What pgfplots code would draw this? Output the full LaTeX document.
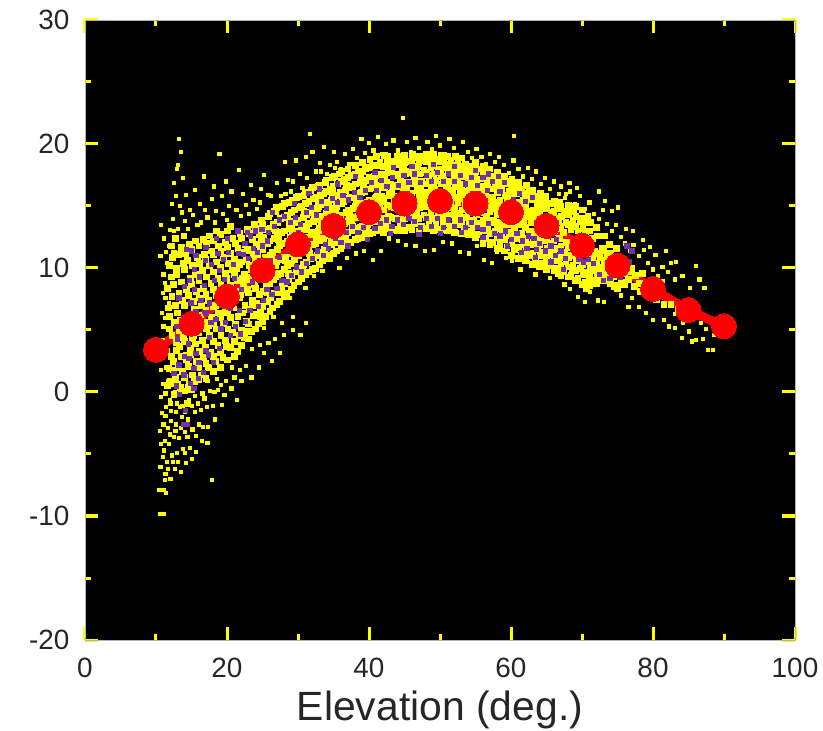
\documentclass[border=0pt]{standalone}
\usepackage{pgfplots}
\pgfplotsset{compat=1.18}
\usepackage{fontspec}
\setmainfont{Liberation Sans}
\definecolor{yy}{RGB}{255,255,0}
\definecolor{pp}{RGB}{112,48,176}
\begin{document}
\begin{tikzpicture}
\path[use as bounding box] (-85bp,-91bp) rectangle (738bp,640bp);
\begin{axis}[
  at={(0,0)}, anchor=south west,
  scale only axis, width=710bp, height=620bp,
  xmin=0, xmax=100, ymin=-20, ymax=30,
  xtick={0,20,...,100}, ytick={-20,-10,...,30},
  minor x tick num=1, minor y tick num=1,
  tick align=inside,
  major tick length=13bp, minor tick length=6bp,
  tick style={yy, line width=3bp},
  minor tick style={yy, line width=3bp},
  axis line style={gray!60, line width=0.8bp},
  axis background/.style={fill=black},
  /pgf/number format/assume math mode=true,
  tick label style={font=\fontsize{28}{28}\selectfont, text=black!85},
  xticklabel style={yshift=-15bp},
  yticklabel style={xshift=-12bp},
  xlabel={Elevation (deg.)},
  xlabel style={font=\fontsize{41}{41}\selectfont, text=black!85, at={(axis description cs:0.5,0)}, anchor=center, yshift=-70bp},
  clip=true,
]
% sparse yellow
\addplot[only marks, mark=square*, mark size=1.6bp, color=yy] coordinates {
(10.6,-9.8)(11,-9.8)(10.4,-7.9)(11,-7.9)(11.4,-8.1)(17.9,-7.1)(11.3,-6.6)(12,-7)(12.6,-6.2)(13.5,-6.4)(14.2,-5.7)(15,-5.4)
(10.6,-6)(10.9,-5.2)(11.5,-5.6)(12.2,-5.1)(12.9,-4.9)(13.8,-4.6)(14.7,-4.5)(15.6,-4.8)(16.4,-3.9)(17.2,-4.1)
(10.7,-4.2)(11.2,-3.9)(11.8,-4.2)(12.5,-3.6)(13.2,-3.7)(14,-3.2)(15.1,-3)(16,-2.6)(17.3,-2.8)(18.3,-2.2)
(10.5,-3.1)(11,-2.6)(11.6,-2.9)(12.1,-2.3)(12.8,-2.6)(13.6,-2)(14.5,-2.2)(15.4,-1.6)(16.3,-1.4)(17.1,-1.2)(18,-1.1)(19.2,-1)
(10.8,-1.7)(11.4,-1.2)(12.1,-1.5)(12.9,-0.9)(13.7,-1.1)(14.6,-0.6)(15.5,-0.3)(16.5,-0.1)(17.6,0.1)(18.7,0.2)(19.6,-0.2)(20.6,0.3)(21.4,-0.6)
(10.7,-0.4)(11.3,-0.1)(11.9,-0.6)(12.6,0)(13.4,0.2)(14.3,0.5)(17.2,0.9)(18.6,1.1)(19.8,0.9)(21,1.2)(22,0.9)
(11,0.7)(11.6,0.9)(12.3,0.6)(20.7,2)(21.8,1.8)(22.6,2.1)(23.4,1.2)(24.5,2)(26.3,2.5)(27.4,3.2)(25.2,3.2)
(10.7,1.8)(11.4,2)(23.5,3.5)(24.6,3.8)(25.8,4)(26.7,4.3)(28,4.6)(29.2,5)(30.3,4.6)(31.1,5.6)(27.7,5.6)(29.3,6.1)
(10.5,3.1)(10.9,8)(11,9.5)(10.6,11)(11.1,12.4)(10.7,13.5)(11.5,10.4)(11.8,7.2)(11.3,6)(11.6,5.2)
(11.9,13.1)(12.3,14)(12.2,15.2)(12.8,15.8)(12.5,16.9)(12.9,18)(13.2,20.4)(13.5,19.4)(13,18.3)(13.8,17.3)(14.2,15.9)(13.6,14.5)(14.5,13.2)(15.2,14.3)
(15.5,16.3)(16.2,15.2)(16.7,17.4)(15.8,13.5)(17.2,14.1)(17.8,15.6)(18.1,16.6)(18.9,19.2)(18.4,14.6)(19.3,15.8)(19.8,17)(20.2,15)(20.6,16.2)(21.3,14.7)
(21.7,17.9)(22.2,16)(22.6,15.1)(23.3,16.7)(23.7,15.5)(24.2,14.8)(24.8,16.4)(25.2,17.5)(25.8,15.9)(26.4,14.7)(27,16.9)(27.6,15.8)(28.1,18.6)(28.6,17.1)
(29,16.2)(29.7,18.7)(30.2,17.6)(30.6,16.5)(31.1,19)(31.7,20.8)(32,19.4)(32.5,17.8)(33,18.5)(33.6,19.8)(34,17.6)(34.5,18.3)(35,19.4)(35.5,18.6)(36,18)(36.6,19.2)
(37.2,18.4)(37.7,19.6)(38.3,18.9)(38.9,20.4)(39.4,19.3)(40,20.1)(40.6,19.5)(41.2,20.6)(41.8,19.2)(42.3,20)(42.8,19.1)(43.4,20.3)(44,19.5)(44.7,22.1)(45.3,20.2)(45.9,19.4)(46.5,20.5)(47,19.7)
(47.6,19.1)(48.2,20.2)(48.8,19.6)(49.4,20.7)(50,19.9)(50.7,19.2)(51.3,20.4)(51.9,19.7)(52.6,19)(53.2,20.2)(53.9,19.4)(54.5,18.9)(55.1,19.6)(55.8,19)(56.4,18.4)(57,19.2)
(57.7,18.6)(58.3,19)(59,18.3)(59.7,17.7)(60.4,20.7)(60.3,18.7)(61,18)(61.7,17.4)(62.3,18.1)(62.9,17.2)(63.5,17.8)(64.2,16.8)(64.8,17.3)(65.5,16.4)(66,17)(66.7,16)
(67,16.6)(67.6,15.7)(68.3,16.2)(69,15.2)(69.7,15.8)(70.3,14.8)(71,15.3)(71.6,14.4)(68.2,16.9)(69.2,16.5)(67.7,16)
(72.3,14)(72.9,14.7)(73.5,13.6)(74.2,13)(74.8,13.5)(75.5,12.5)(76,12)(76.7,11.4)(77.2,11.9)(78,11)(78.7,11.5)(79.2,10.4)
(80,9.9)(80.7,9.4)(81.3,10.1)(81.3,9)(82.1,9.7)(83,9.1)(84.1,9.4)(86,10.2)(86.5,9.1)(85.2,8.4)(87.2,8.4)
(81.5,5.8)(82.2,5.3)(83.1,5.2)(84,4.4)(85,4.9)(86,4.2)(87,4.3)(87.7,3.4)(88.4,3.4)(85.4,4.1)(87.4,5.1)(88.5,4.6)(84.2,5.6)(83,6.3)(86.7,5.6)
(79,6.4)(80,5.8)(78,6.9)(77,7.6)(76.5,6.9)(75.5,7.8)(74.3,8.4)(73,7.3)(72.2,7.4)(71.1,8.1)(70.4,7.3)(69.4,7.7)(68.3,8.3)(67.5,8.7)(66.4,9.5)(65.4,9.2)(64.5,10)(63.4,9.5)(62.4,10.5)(61.3,9.9)
(60.1,10.6)(59.2,10.8)(58,11.3)(57.3,10.4)(56.2,10.7)(55.2,11.8)(54,11.2)(52.8,11.3)(51.7,12)(50.4,12.1)(49.1,11.5)(47.8,11.4)(46.5,11.8)(45.2,11.9)(44,12.2)(42.8,12.4)(41.6,11.4)(40.5,10.7)
(39.3,11.4)(38.1,11.2)(36.9,10.8)(35.8,10)(34.6,10.7)(33.4,9.8)(32.2,9.4)(31,8.4)(30,8.8)(28.8,7.6)(27.6,7.2)(26.5,6.1)(25.2,5.2)
(72.4,16.2)(73.2,15.4)(74.2,14.6)(75,14.9)(76.2,13.2)(77.1,13)(78.5,12.3)(79.5,11.7)(80.3,11.1)(81.8,11.4)(82.5,10.4)(83.2,10.5)
(11.2,-7.1)(11.7,-6.2)(12.4,-5.6)(13.1,-5.6)(14,-4.9)(11.1,-4.7)(11.9,-3.4)(12.7,-3.1)(13.5,-2.9)(14.4,-3.6)(15.6,-3.5)(16.6,-2.8)
(11.3,-1.9)(12,-0.9)(12.8,-1.6)(13.3,-1.2)(14,-1.6)(15,-1.1)(15.9,-0.9)(16.8,-0.5)(18.2,0)(19.1,0.6)
(10.9,4.2)(11,5.3)(10.8,6.4)(11.3,7.6)(11.2,8.8)(11.4,11.3)(11.8,11.8)(12.5,13)(13.1,13.2)(13.3,15)(14,13.8)(14.7,14.7)(16.3,13.7)(16.9,14.7)(18.3,13.7)(19.4,14.4)(20,13.9)(21.9,14.2)(23,14.4)(24.6,15.3)(26.2,15.8)(28.2,16)(29.3,17)(31.2,17.3)(33.2,17.8)(35.2,18.1)
};
% dense yellow
\addplot[only marks, mark=square*, mark size=2.9bp, color=yy] coordinates {
(11.6,0.5)(11.8,1.9)(11.5,3.3)(11.9,5.1)(11.7,6.8)(11.6,8.4)(11.9,10.2)(12.1,11.8)
(12.5,-0.2)(12.7,1.2)(12.4,2.5)(12.8,4)(12.5,5.6)(12.7,7)(12.4,8.7)(12.8,10)(12.5,11.2)(12.7,12.4)
(13.4,0.4)(13.7,1.7)(13.5,2.9)(13.8,4.4)(13.4,5.8)(13.7,7.4)(13.5,8.9)(13.8,10.4)(13.5,11.7)(13.9,12.6)
(14.4,-0.9)(14.7,0.6)(14.5,2.1)(14.8,3.5)(14.4,4.8)(14.7,6.2)(14.5,7.8)(14.8,9.2)(14.4,10.6)(14.7,11.9)
(15.4,0.9)(15.7,2.5)(15.5,3.9)(15.8,5.2)(15.4,6.7)(15.7,8.1)(15.5,9.5)(15.8,10.9)(15.5,12.2)
(16.4,1.4)(16.7,2.8)(16.5,4.2)(16.8,5.6)(16.4,7)(16.7,8.4)(16.5,9.8)(16.8,11.1)(16.6,12.3)
(17.4,2)(17.7,3.2)(17.5,4.6)(17.8,6)(17.4,7.4)(17.7,8.8)(17.5,10.2)(17.8,11.4)(17.5,12.6)
(18.4,2.5)(18.7,3.8)(18.5,5.1)(18.8,6.4)(18.4,7.8)(18.7,9.2)(18.5,10.5)(18.8,11.8)(18.5,13)
(19.4,2.8)(19.7,4.2)(19.5,5.5)(19.8,6.9)(19.4,8.2)(19.7,9.6)(19.5,10.9)(19.8,12.1)
(20.4,3.6)(20.7,4.8)(20.5,6)(20.8,7.3)(20.4,8.6)(20.7,9.9)(20.5,11.2)(20.8,12.4)(20.5,13.4)
(21.4,3.3)(21.7,4.6)(21.5,6.1)(21.8,7.6)(21.4,9)(21.7,10.3)(21.5,11.6)(21.8,12.8)
(22.4,4.4)(22.7,5.7)(22.5,7)(22.8,8.3)(22.4,9.5)(22.7,10.7)(22.5,11.9)(22.8,13.1)
(23.4,4.9)(23.7,6.2)(23.5,7.4)(23.8,8.7)(23.4,9.9)(23.7,11.1)(23.5,12.3)(23.8,13.5)
(24.4,5.5)(24.7,6.7)(24.5,7.9)(24.8,9.1)(24.4,10.3)(24.7,11.5)(24.5,12.7)(24.8,13.9)
(25.4,6.1)(25.7,7.3)(25.5,8.5)(25.8,9.7)(25.4,10.9)(25.7,12)(25.5,13.1)(25.8,14.2)
(26.4,6.8)(26.7,8)(26.5,9.1)(26.8,10.2)(26.4,11.3)(26.7,12.4)(26.5,13.5)(26.8,14.6)
(27.4,7.3)(27.7,8.5)(27.5,9.6)(27.8,10.7)(27.4,11.8)(27.7,12.9)(27.5,14)(27.8,15)
(28.4,8)(28.7,9.1)(28.5,10.2)(28.8,11.2)(28.4,12.2)(28.7,13.2)(28.5,14.3)(28.8,15.3)
(29.4,8.6)(29.7,9.7)(29.5,10.7)(29.8,11.7)(29.4,12.7)(29.7,13.7)(29.5,14.7)(29.8,15.7)
(30.4,9.2)(30.7,10.3)(30.5,11.3)(30.8,12.3)(30.4,13.2)(30.7,14.1)(30.5,15)(30.8,15.9)
(31.4,9.7)(31.7,10.8)(31.5,11.7)(31.8,12.7)(31.4,13.6)(31.7,14.5)(31.5,15.4)(31.8,16.3)
(32.4,10)(32.7,11)(32.5,12)(32.8,13)(32.4,13.9)(32.7,14.8)(32.5,15.7)(32.8,16.6)
(33.4,10.6)(33.7,11.5)(33.5,12.4)(33.8,13.3)(33.4,14.2)(33.7,15.1)(33.5,16)(33.8,16.9)
(34.4,11)(34.7,11.9)(34.5,12.8)(34.8,13.7)(34.4,14.6)(34.7,15.5)(34.5,16.4)(34.8,17.3)
(35.4,11.4)(35.7,12.3)(35.5,13.2)(35.8,14.1)(35.4,15)(35.7,15.9)(35.5,16.8)(35.8,17.6)
(36.4,11.8)(36.7,12.7)(36.5,13.6)(36.8,14.5)(36.4,15.4)(36.7,16.3)(36.5,17.2)
(37.4,12.1)(37.7,13)(37.5,13.9)(37.8,14.8)(37.4,15.7)(37.7,16.6)(37.5,17.5)
(38.4,12.4)(38.7,13.3)(38.5,14.2)(38.8,15.1)(38.4,16)(38.7,16.9)(38.5,17.8)
(39.4,12.7)(39.7,13.5)(39.5,14.4)(39.8,15.3)(39.4,16.2)(39.7,17.1)(39.5,18)
(40.4,12.9)(40.7,13.8)(40.5,14.7)(40.8,15.6)(40.4,16.5)(40.7,17.4)(40.5,18.3)
(41.4,13.1)(41.7,14)(41.5,14.9)(41.8,15.8)(41.4,16.7)(41.7,17.6)(41.5,18.5)
(42.4,13.3)(42.7,14.2)(42.5,15.1)(42.8,16)(42.4,16.9)(42.7,17.8)(42.5,18.6)
(43.4,13.1)(43.7,14)(43.5,14.9)(43.8,15.8)(43.4,16.7)(43.7,17.6)(43.5,18.5)
(44.4,13.5)(44.7,14.4)(44.5,15.3)(44.8,16.2)(44.4,17.1)(44.7,18)(44.5,18.8)
(45.4,13.3)(45.7,14.2)(45.5,15.1)(45.8,16)(45.4,16.9)(45.7,17.8)(45.5,18.6)
(46.4,13.6)(46.7,14.5)(46.5,15.4)(46.8,16.3)(46.4,17.2)(46.7,18.1)(46.5,18.9)
(47.4,13.4)(47.7,14.3)(47.5,15.2)(47.8,16.1)(47.4,17)(47.7,17.9)(47.5,18.7)
(48.4,13.6)(48.7,14.5)(48.5,15.4)(48.8,16.3)(48.4,17.2)(48.7,18.1)(48.5,18.9)
(49.4,13.5)(49.7,14.4)(49.5,15.3)(49.8,16.2)(49.4,17.1)(49.7,18)(49.5,18.8)
(50.4,13.6)(50.7,14.5)(50.5,15.4)(50.8,16.3)(50.4,17.2)(50.7,18.1)(50.5,18.9)
(51.4,13.4)(51.7,14.3)(51.5,15.2)(51.8,16.1)(51.4,17)(51.7,17.9)(51.5,18.7)
(52.4,13.5)(52.7,14.4)(52.5,15.3)(52.8,16.2)(52.4,17.1)(52.7,18)(52.5,18.8)
(53.4,13.2)(53.7,14.1)(53.5,15)(53.8,15.9)(53.4,16.8)(53.7,17.7)(53.5,18.4)
(54.4,13)(54.7,13.9)(54.5,14.8)(54.8,15.7)(54.4,16.6)(54.7,17.5)(54.5,18.2)
(55.4,12.7)(55.7,13.6)(55.5,14.5)(55.8,15.4)(55.4,16.3)(55.7,17.2)(55.5,18)
(56.4,12.4)(56.7,13.3)(56.5,14.2)(56.8,15.1)(56.4,16)(56.7,16.9)(56.5,17.7)
(57.4,12.1)(57.7,13)(57.5,13.9)(57.8,14.8)(57.4,15.7)(57.7,16.6)(57.5,17.4)
(58.4,11.9)(58.7,12.8)(58.5,13.7)(58.8,14.6)(58.4,15.5)(58.7,16.4)(58.5,17.2)
(59.4,11.7)(59.7,12.6)(59.5,13.5)(59.8,14.4)(59.4,15.3)(59.7,16.2)(59.5,17)
(60.4,11.5)(60.7,12.4)(60.5,13.3)(60.8,14.2)(60.4,15.1)(60.7,16)(60.5,16.8)
(61.4,11)(61.7,11.9)(61.5,12.8)(61.8,13.7)(61.4,14.6)(61.7,15.5)(61.5,16.4)
(62.4,11)(62.7,11.9)(62.5,12.8)(62.8,13.7)(62.4,14.6)(62.7,15.5)(62.5,16.2)
(63.4,10.6)(63.7,11.5)(63.5,12.4)(63.8,13.3)(63.4,14.2)(63.7,15)(63.5,15.8)
(64.4,10.4)(64.7,11.3)(64.5,12.2)(64.8,13.1)(64.4,14)(64.7,14.8)(64.5,15.5)
(65.4,10.2)(65.7,11.1)(65.5,12)(65.8,12.9)(65.4,13.7)(65.7,14.5)(65.5,15.2)
(66.4,10)(66.7,10.8)(66.5,11.6)(66.8,12.4)(66.4,13.2)(66.7,14)(66.5,14.8)
(67.4,9.7)(67.7,10.5)(67.5,11.3)(67.8,12.1)(67.4,12.9)(67.7,13.7)(67.5,14.6)
(68.4,9.4)(68.7,10.2)(68.5,11)(68.8,11.8)(68.4,13.1)(68.7,13.9)(68.5,14.7)
(69.4,9.2)(69.7,10)(69.5,10.8)(69.8,11.6)(69.4,13)(69.7,13.8)
(70.4,8.9)(70.7,9.7)(70.5,10.5)(70.8,11.3)(70.4,12.9)(70.7,13.7)
(71.4,9)(71.7,9.8)(71.5,10.6)(71.8,11.4)(71.4,12.4)
(72.4,9.2)(72.7,10.1)(72.5,10.9)(72.8,11.6)
(73.4,9.5)(73.7,10.3)(73.5,11.1)(73.8,11.9)
(74.4,9.3)(74.7,10.1)(74.5,10.9)(74.8,11.6)
(75.5,8.9)(76,9.6)(76.5,9.1)(77,10)(77.5,9.4)(78,8.8)(78.5,9.6)(79,8.7)
(80.5,7.5)(81.5,7.1)(82.5,7.1)(83.5,6.7)
% second pass, denser and less regular
(12,0.9)(12.1,2.9)(12.2,4.6)(11.9,6.1)(12.2,7.7)(12.1,9.3)(12.3,10.9)
(13,0.6)(13.1,2)(12.9,3.4)(13.2,5)(13,6.4)(13.2,8)(12.9,9.5)(13.1,11.1)
(14,0.1)(14,1.2)(14.2,3)(14,4.1)(14.1,5.4)(14,7)(14.2,8.3)(14,9.9)(14.1,11.2)
(15,0.2)(15.1,1.4)(14.9,3)(15.1,4.3)(15,5.9)(15.2,7.3)(15,8.7)(15.1,10.2)(15,11.5)
(16,1)(15.9,2)(16.1,3.3)(16,4.8)(15.9,6.2)(16.1,7.6)(16,9)(16.1,10.4)(16,11.8)
(17,1.1)(17,2.3)(16.9,3.6)(17.1,5.1)(17,6.6)(17,7.9)(17.1,9.3)(16.9,10.7)(17.1,12)
(18,1.7)(18,2.9)(18.1,4.1)(18,5.5)(18.1,6.9)(18,8.3)(18,9.7)(18.1,11.1)(18,12.2)
(19,2)(19,3.2)(19.1,4.6)(19,6)(18.9,7.3)(19.1,8.7)(19,10.1)(19.1,11.4)(19,12.7)
(20,2.6)(19.9,3.7)(20.1,5.1)(20,6.4)(20.1,7.9)(19.9,9.2)(20.1,10.4)(20,11.7)(20,13)
(21,2.9)(21,4.1)(21.1,5.5)(20.9,6.8)(21.1,8.1)(21,9.5)(21,10.7)(21.1,12)
(22,3.8)(22,5)(22.1,6.4)(21.9,7.9)(22.1,9.2)(22,10.5)(22.1,11.3)(22,12.4)
(23,4.3)(23,5.5)(23.1,6.7)(23,8)(22.9,9.1)(23.1,10.2)(23,11.5)(23.1,12.8)
(24,5.1)(24,6.3)(24.1,7.2)(24,8.4)(24.1,9.6)(23.9,10.7)(24.1,11.9)(24,13.2)
(25,5.7)(25,6.9)(25.1,8.1)(24.9,9.4)(25.1,10.5)(25,11.5)(25.1,12.5)(25,13.5)
(26,6.5)(26.1,7.6)(26,8.8)(26.1,9.9)(26,11)(25.9,12.2)(26.1,13.2)(26,14.4)
(27,7.1)(27,8.2)(27.1,9.3)(27,10.5)(27.1,11.5)(27,12.6)(27.1,13.7)(26.9,14.9)
(28,7.7)(28.1,8.8)(28,9.9)(28.1,10.9)(27.9,12)(28.1,13)(28,14.1)(28.1,15.2)
(29,8.3)(29,9.4)(29.1,10.4)(29,11.4)(28.9,12.5)(29.1,13.5)(29,14.5)(29.1,15.5)
(30,8.9)(30.1,10)(30,11)(30,12)(30.1,13)(29.9,13.9)(30.1,14.9)(30,15.8)
(31,9.5)(31.1,10.5)(31,11.5)(31,12.5)(30.9,13.4)(31.1,14.3)(31,15.2)(31,16.1)
(32,9.9)(32.1,10.9)(32,11.9)(31.9,12.9)(32.1,13.8)(32,14.7)(32.1,15.6)(32,16.5)
(33,10.3)(33.1,11.3)(33,12.2)(33,13.2)(33.1,14.1)(32.9,15)(33.1,15.9)(33,16.7)
(34,10.8)(34,11.7)(34.1,12.6)(34,13.5)(34,14.4)(34.1,15.3)(34,16.2)(33.9,17.1)
(35,11.2)(35.1,12.1)(35,13)(35,13.9)(35.1,14.8)(35,15.7)(34.9,16.6)(35.1,17.4)
(36,11.6)(36.1,12.5)(36,13.4)(36,14.3)(36.1,15.2)(35.9,16.1)(36,17)(36.1,17.8)
(37,12)(37,12.9)(37.1,13.8)(37,14.7)(36.9,15.6)(37.1,16.5)(37,17.3)(37,18)
(38,12.3)(38.1,13.2)(38,14.1)(38,15)(38.1,15.9)(38,16.8)(38.1,17.6)(38,18.3)
(39,12.5)(39,13.4)(39.1,14.3)(39,15.2)(38.9,16.1)(39.1,17)(39,17.8)(39,18.5)
(40,12.8)(40.1,13.7)(40,14.6)(40,15.5)(40.1,16.4)(40,17.3)(40,18.1)(40.1,18.8)
(41,13)(41,13.9)(41.1,14.8)(41,15.7)(41,16.6)(41.1,17.5)(41,18.3)(41,19)
(42,12.9)(42.1,13.8)(42,14.7)(42,15.6)(42.1,16.5)(42,17.4)(42,18.2)(42.1,19.1)
(43,13.2)(43,14.1)(43.1,15)(43,15.9)(43,16.8)(43.1,17.7)(43,18.6)
(44,13)(44.1,13.9)(44,14.8)(44,15.7)(44.1,16.6)(44,17.5)(44.1,18.4)(44,19)
(45,13)(45,14)(45.1,14.9)(45,15.8)(45,16.7)(45.1,17.6)(45,18.5)(45,19.1)
(46,13.1)(46.1,14.1)(46,15)(46,15.9)(46.1,16.8)(46,17.7)(46,18.5)(46.1,19.2)
(47,13)(47,14)(47.1,14.9)(47,15.8)(47,16.7)(47.1,17.6)(47,18.5)(47,19)
(48,13.2)(48.1,14.1)(48,15)(48,15.9)(48.1,16.8)(48,17.7)(48,18.6)(48.1,19.2)
(49,13)(49,14)(49.1,14.9)(49,15.8)(49,16.7)(49.1,17.6)(49,18.5)(49,19.2)
(50,13.1)(50.1,14.1)(50,15)(50,15.9)(50.1,16.8)(50,17.7)(50,18.6)(50.1,19.1)
(51,13)(51,14)(51.1,14.9)(51,15.8)(51,16.7)(51.1,17.6)(51,18.4)(51,19)
(52,12.9)(52.1,13.9)(52,14.8)(52,15.7)(52.1,16.6)(52,17.5)(52,18.3)(52.1,19)
(53,12.8)(53,13.8)(53.1,14.7)(53,15.6)(53,16.5)(53.1,17.4)(53,18.2)(53,18.9)
(54,12.7)(54.1,13.6)(54,14.5)(54,15.4)(54.1,16.3)(54,17.2)(54,18)
(55,12.5)(55,13.4)(55.1,14.3)(55,15.2)(55,16.1)(55.1,17)(55,17.8)(55,18.5)
(56,12)(56.1,13)(56,13.9)(56,14.8)(56.1,15.7)(56,16.6)(56,17.5)(56.1,18.2)
(57,11.9)(57,12.8)(57.1,13.7)(57,14.6)(57,15.5)(57.1,16.4)(57,17.2)(57,18)
(58,11.6)(58.1,12.5)(58,13.4)(58,14.3)(58.1,15.2)(58,16.1)(58,17)(58.1,17.7)
(59,11.4)(59,12.3)(59.1,13.2)(59,14.1)(59,15)(59.1,15.9)(59,16.8)(59,17.4)
(60,11)(60.1,12)(60,12.9)(60,13.8)(60.1,14.7)(60,15.6)(60,16.5)(60.1,17.2)
(61,10.8)(61,11.7)(61.1,12.6)(61,13.5)(61,14.4)(61.1,15.3)(61,16.1)(61,16.9)
(62,10.6)(62.1,11.5)(62,12.4)(62,13.3)(62.1,14.2)(62,15.1)(62,16)(62.1,16.7)
(63,10.3)(63,11.2)(63.1,12.1)(63,13)(63,13.9)(63.1,14.7)(63,15.5)(63,16.3)
(64,10.1)(64.1,11)(64,11.9)(64,12.7)(64.1,13.6)(64,14.4)(64,15.2)(64.1,16)
(65,9.9)(65,10.8)(65.1,11.6)(65,12.5)(65,13.3)(65.1,14.1)(65,15)
(66,9.8)(66.1,10.6)(66,11.4)(66,12.2)(66.1,13)(66,13.8)(66,14.6)(66.1,15.4)
(67,9.4)(67,10.2)(67.1,11)(67,11.8)(67,13.4)(67.1,14.2)(67,15)
(68,9.3)(68.1,10.1)(68,10.9)(68,11.7)(68,13.5)(68.1,14.3)(68,15.1)
(69,9)(69,9.8)(69.1,10.6)(69,11.4)(69,13.4)(69.1,14.2)(69,15)
(70,8.7)(70.1,9.5)(70,10.3)(70,11.1)(70.1,13.2)(70,14)(70,14.7)
(71,8.6)(71,9.4)(71.1,10.2)(71,11)(71,13)(71.1,13.7)
(72,8.8)(72.1,9.6)(72,10.4)(72,11.2)(72.1,12.6)(72,13.3)
(73,9)(73,9.8)(73.1,10.6)(73,11.4)(73.1,12.6)
(74,8.8)(74.1,9.6)(74,10.4)(74,11.2)
(75,8.4)(75.2,9.4)(75.9,8.7)(76.6,9.7)(77.3,8.5)(78.2,8.1)(79,8)(79.6,7.6)
% third pass, in the gaps
(22.6,4.9)(23.6,7)(24.6,6.1)(25.6,8)(26.6,9.6)(27.6,8)(28.6,9.6)(29.6,11.2)(30.6,9.8)(31.6,11.2)(32.6,12.5)(33.6,11)(34.6,12.3)(35.6,13.6)(36.6,12.2)(37.6,13.4)(38.6,14.7)(39.6,13)(40.6,14.2)(41.6,15.4)(42.6,13.8)(43.6,15.4)(44.6,14)(45.6,15.6)(46.6,14)(47.6,15.7)(48.6,14)(49.6,15.8)(50.6,14)(51.6,15.7)(52.6,13.9)(53.6,15.5)(54.6,13.4)(55.6,15)(56.6,13.8)(57.6,15.3)(58.6,13.2)(59.6,14.9)(60.6,13.8)(61.6,12.3)(62.6,14.2)
(23.2,9.3)(24.2,11)(25.2,9.1)(26.2,10.8)(27.2,12.3)(28.2,10.6)(29.2,13)(30.2,11.8)(31.2,13.1)(32.2,14.3)(33.2,13.8)(34.2,15)(35.2,14.5)(36.2,15.8)(37.2,14.3)(38.2,15.5)(39.2,16.6)(40.2,15)(41.2,16.2)(42.2,17.3)(43.2,16.2)(44.2,17.5)(45.2,16.4)(46.2,17.6)(47.2,16.5)(48.2,17.5)(49.2,16.4)(50.2,17.4)(51.2,16.3)(52.2,17.2)(53.2,16.2)(54.2,17)(55.2,15.8)(56.2,16.4)(57.2,15.1)(58.2,16.6)(59.2,14.6)(60.2,15.2)(61.2,14)(62.2,15.7)(63.2,12.6)
(22.8,11.4)(24.8,12.2)(26.8,13)(28.8,13.8)(30.8,14.6)(32.8,15.2)(34.8,16)(36.8,16.7)(38.8,17.3)(40.8,17)(42.8,18.3)(44.8,18.4)(46.8,18.2)(48.8,18.3)(50.8,18.2)(52.8,17.9)(54.8,17.7)(56.8,17.2)(58.8,16.9)(60.8,16.4)(62.8,16)(64.8,15.8)(66.8,15.3)(68.8,14.6)(70.8,14.2)
(12.4,1.8)(13.3,3.7)(14.3,2.6)(15.3,4.6)(16.3,6)(17.3,5.4)(18.3,7)(19.3,6.4)(20.3,8.3)(21.3,10)(22.3,8.7)
(64.6,12.6)(66.6,13.6)(65.6,11.5)(63.6,14.6)(67.6,10.9)(69.6,11.2)(68.6,9.8)(71.6,10.3)(70.6,8.4)(72.6,9.5)(74.6,8.6)
};
% purple
\addplot[only marks, mark=square*, mark size=2.1bp, color=pp] coordinates {
(12.5,1.5)(13.2,2.2)(13.9,1.4)(14.6,2.7)(15.3,1.9)(16,2.4)(16.7,1.6)(17.4,3)(18.1,2.4)(18.9,3.5)(14,2.9)(15.6,3.1)(17,3.4)
(12.9,0.5)(13.3,-0.2)(13.9,-2.6)(14.4,-2.6)(14.1,-1.5)(14.8,0.7)(15.3,0.3)(15.9,1.1)
(12.8,5.3)(13.5,5.8)(14.2,5.2)(14.9,7.2)(15.6,6.5)(16.3,7.4)(17,6.4)(17.7,5.6)(18.4,5.9)(19.1,5.1)(19.8,5.6)(20.5,4.6)(21.2,5.3)(21.9,4.7)(22.6,5.7)
(13.2,7.6)(14,8.5)(14.7,9)(15.4,8.3)(16.1,9.3)(16.8,8.6)(17.5,7.2)(18.2,9)(18.9,9.8)(19.6,9.1)(20.3,8.1)(21,9.2)(21.7,6.6)
(14.3,11.5)(15,11.4)(15.6,11)(16.9,10.6)(17.8,10.3)(18.7,11.2)(19.5,10.7)(20.2,11.3)(20.9,10.3)(21.6,11.2)(22.3,11.1)(23,10.8)(23.7,11.6)(24.3,11.3)(25,11.8)(25.7,12.2)
(24.4,6.9)(25.1,7.4)(23.2,6.6)(25.6,8.3)(26.3,7.9)(27,8.4)(27.7,9)(28.4,8.9)(29,9.4)(29.8,10.1)(30.5,9.7)(31.2,10.4)(32,10.8)(32.7,11.4)(33.5,11)(34.2,11.6)
(22.5,12)(23.3,12.6)(24,13)(24.9,13.1)(25.8,12.9)(26.6,13.4)(27.4,13.9)(28.1,14.2)(28.9,13.7)(29.6,14.1)(30.3,13.5)(31.1,14.5)(31.9,14.9)(32.6,14.3)
(33.3,15.4)(34,14.8)(34.8,15.6)(35.5,15.3)(36.3,15.9)(37.1,15.5)(37.9,16.1)(38.7,15.7)(39.5,16.3)(40.3,16.9)(41,16.3)(41.7,17.1)(42.5,16.6)(43.3,17.3)(44.1,16.7)
(35.2,12.4)(36,12.1)(36.8,12.9)(37.6,13.4)(38.4,12.9)(39.2,13.3)(40,13.8)(40.8,13.2)(41.6,13.6)(42.4,13.9)(43.2,13.4)(44,13.9)(44.8,13.5)(45.6,14)
(44.9,17.5)(45.6,16.9)(46.4,17.6)(47.2,16.9)(48,17.5)(48.8,17)(49.6,17.7)(50.4,17)(51.2,17.6)(52,17)(52.8,17.5)(53.6,16.8)(54.4,17.3)(55.2,16.7)(56,17.3)(56.8,17.6)(57.4,17)(58.2,17.4)(59,16.9)(58.4,16.2)(56.6,16.3)
(46.4,13.8)(47.2,13.3)(48,14)(48.8,13.4)(49.6,14)(50.4,13.3)(51.2,13.9)(52,13.4)(52.8,13.9)(53.6,13.3)(54.4,13.7)(55.2,13.3)(56,13.1)(56.8,13.6)(57.6,12.8)
(58.4,12.6)(59.2,13)(60,12.3)(60.8,12.8)(61.6,12.2)(62.4,12.6)(63.2,12.4)(64,12)(64.8,11.4)(65.6,11.8)(66.2,11)(67,11.4)(67.6,10.8)(66.4,12.3)(65.2,12.6)(63.6,11.5)(62.2,11.6)
(70.2,10.5)(70.9,10.7)(71.6,10.4)(69.5,10.7)(72.4,9.5)(73,9)(73.9,9.2)(74.6,9.7)(75.4,9.3)
(76.3,11.8)(77,11.4)(85.6,7)(60.3,15.5)(61.2,16)(62,15.4)(63,15.7)(76.7,10.5)
(13,4.3)(14.5,3.9)(16,5)(17.5,4.4)(19,7.2)(20.5,6.8)(22,8.3)(23.5,8.9)(24.8,9.6)(26,10.6)(27.3,10.9)(28.7,11.4)(30,12.9)
(15.4,9.9)(17,11.7)(18.5,12.4)(20,12.4)(21.5,13)(22.8,12.9)(26.4,14.5)(29.5,15.2)(31.5,16)(33,16.4)(35.5,16.8)(38,17.4)(40.8,17.7)(43.4,18.1)(46,18.2)(49,18.4)(52,18.2)(55,17.9)
(33.8,11.9)(37,11.8)(39.8,12.3)(43,12.8)(47,12.7)(50,12.8)(53,12.9)(56,12.5)(59.5,11.8)(61.4,11.3)(63.4,10.9)(65.6,10.5)(67.4,9.9)
};
% red mean curve
\addplot[color=red, line width=9bp, mark=*, mark size=12.5bp, mark options={fill=red, draw=red, line width=0pt}] coordinates {
(10,3.4)(15,5.5)(20,7.7)(25,9.8)(30,11.9)(35,13.4)(40,14.5)(45,15.2)(50,15.4)(55,15.2)(60,14.5)(65,13.4)(70,11.8)(75,10.2)(80,8.3)(85,6.6)(90,5.3)
};
\end{axis}
\end{tikzpicture}
\end{document}
